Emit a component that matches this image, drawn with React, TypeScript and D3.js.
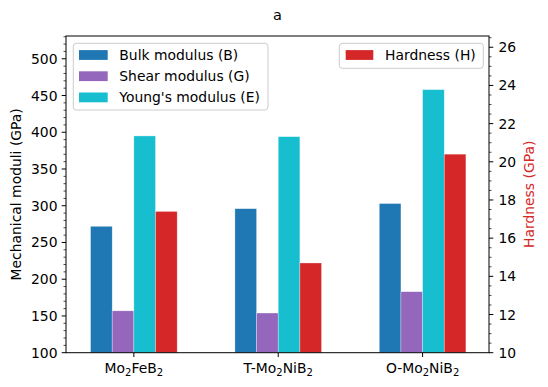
import * as d3 from 'd3'

const categories = ['Mo2FeB2', 'T-Mo2NiB2', 'O-Mo2NiB2']
const bulk = [272, 296, 303]
const shear = [157, 154, 183]
const young = [395, 394, 458]
const hardness = [17.4, 14.7, 20.4]
const leftTicks = [100, 150, 200, 250, 300, 350, 400, 450, 500]
const rightTicks = [10, 12, 14, 16, 18, 20, 22, 24, 26]

const seriesLeft = [
  { name: 'Bulk modulus (B)', values: bulk, color: '#1f77b4' },
  { name: 'Shear modulus (G)', values: shear, color: '#9467bd' },
  { name: "Young's modulus (E)", values: young, color: '#17becf' },
]
const hardSeries = { name: 'Hardness (H)', values: hardness, color: '#d62728' }

const W = 548
const H = 387
const plot = { left: 66, right: 489, top: 36, bottom: 352.7 }
const font = 'DejaVu Sans, sans-serif'
const fs = 13.9

// splits "Mo2FeB2" into text with subscript digits
function Formula({ label, x, y }: { label: string; x: number; y: number }) {
  const parts = label.split(/(\d)/).filter(p => p !== '')
  return (
    <text x={x} y={y} textAnchor="middle" fontSize={fs} fontFamily={font} fill="#000">
      {parts.map((p, i) =>
        /\d/.test(p) ? (
          <tspan key={i} fontSize={fs * 0.72} dy={3}>{p}</tspan>
        ) : (
          <tspan key={i} dy={i > 0 && /\d/.test(parts[i - 1]) ? -3 : 0}>{p}</tspan>
        )
      )}
    </text>
  )
}

export default function App() {
  const x = d3.scaleLinear().domain([-0.47, 2.46]).range([plot.left, plot.right])
  const yL = d3.scaleLinear().domain([100, 531]).range([plot.bottom, plot.top])
  const yR = d3.scaleLinear().domain([10, 26.59]).range([plot.bottom, plot.top])
  const bw = 0.15
  const bwPx = x(bw) - x(0)

  const leftMinor = d3.range(100, 531, 10).filter(v => v % 50 !== 0)
  const rightMinor = d3.range(10, 26.59, 0.5).filter(v => v % 2 !== 0)

  const allSeries = [
    ...seriesLeft.map(s => ({ ...s, scale: yL, base: 100 })),
    { ...hardSeries, scale: yR, base: 10 },
  ]

  return (
    <svg width={W} height={H} style={{ position: 'absolute', left: 0, top: 0, background: '#fff' }}>
      <text x={277.5} y={20} textAnchor="middle" fontSize={14.5} fontFamily={font}>a</text>

      {/* bars */}
      {allSeries.map((s, si) =>
        s.values.map((v, i) => {
          const cx = x(i + (si - 1.5) * bw)
          return (
            <rect
              key={s.name + i}
              x={cx - bwPx / 2}
              y={s.scale(v)}
              width={bwPx}
              height={s.scale(s.base) - s.scale(v)}
              fill={s.color}
              stroke="#fff"
              strokeOpacity={0.5}
              strokeWidth={0.6}
            />
          )
        })
      )}

      {/* frame */}
      <rect x={plot.left} y={plot.top} width={plot.right - plot.left} height={plot.bottom - plot.top}
        fill="none" stroke="#000" strokeWidth={1} />

      {/* left axis */}
      {leftTicks.map(t => (
        <g key={'l' + t}>
          <line x1={plot.left - 4.3} x2={plot.left} y1={yL(t)} y2={yL(t)} stroke="#000" strokeWidth={1} />
          <text x={plot.left - 8.5} y={yL(t)} dy="0.36em" textAnchor="end" fontSize={fs} fontFamily={font}>{t}</text>
        </g>
      ))}
      {leftMinor.map(t => (
        <line key={'lm' + t} x1={plot.left - 2.5} x2={plot.left} y1={yL(t)} y2={yL(t)} stroke="#000" strokeWidth={0.7} />
      ))}
      <text transform={`translate(21,${(plot.top + plot.bottom) / 2}) rotate(-90)`} textAnchor="middle"
        fontSize={fs} fontFamily={font}>Mechanical moduli (GPa)</text>

      {/* right axis */}
      {rightTicks.map(t => (
        <g key={'r' + t}>
          <line x1={plot.right} x2={plot.right + 4.3} y1={yR(t)} y2={yR(t)} stroke="#000" strokeWidth={1} />
          <text x={plot.right + 9.5} y={yR(t)} dy="0.36em" textAnchor="start" fontSize={fs} fontFamily={font}>{t}</text>
        </g>
      ))}
      {rightMinor.map(t => (
        <line key={'rm' + t} x1={plot.right} x2={plot.right + 2.5} y1={yR(t)} y2={yR(t)} stroke="#000" strokeWidth={0.7} />
      ))}
      <text transform={`translate(534,${(plot.top + plot.bottom) / 2}) rotate(-90)`} textAnchor="middle"
        fontSize={fs} fontFamily={font} fill="#d62728">Hardness (GPa)</text>

      {/* x axis */}
      {categories.map((c, i) => (
        <g key={c}>
          <line x1={x(i)} x2={x(i)} y1={plot.bottom} y2={plot.bottom + 4.3} stroke="#000" strokeWidth={1} />
          <Formula label={c} x={x(i)} y={plot.bottom + 20} />
        </g>
      ))}

      {/* legends */}
      <rect x={73.3} y={43.3} width={194.7} height={66.7} rx={3} fill="#fff" fillOpacity={0.8} stroke="#ccc" strokeWidth={1} />
      {seriesLeft.map((s, i) => {
        const cy = 55 + i * 21.2
        return (
          <g key={s.name}>
            <rect x={79} y={cy - 4.9} width={28.7} height={9.8} fill={s.color} />
            <text x={119.3} y={cy} dy="0.36em" fontSize={fs} fontFamily={font}>{s.name}</text>
          </g>
        )
      })}
      <rect x={339.3} y={43.3} width={144} height={25} rx={3} fill="#fff" fillOpacity={0.8} stroke="#ccc" strokeWidth={1} />
      <rect x={345.7} y={55 - 4.9} width={27.6} height={9.8} fill={hardSeries.color} />
      <text x={385} y={55} dy="0.36em" fontSize={fs} fontFamily={font}>{hardSeries.name}</text>
    </svg>
  )
}
